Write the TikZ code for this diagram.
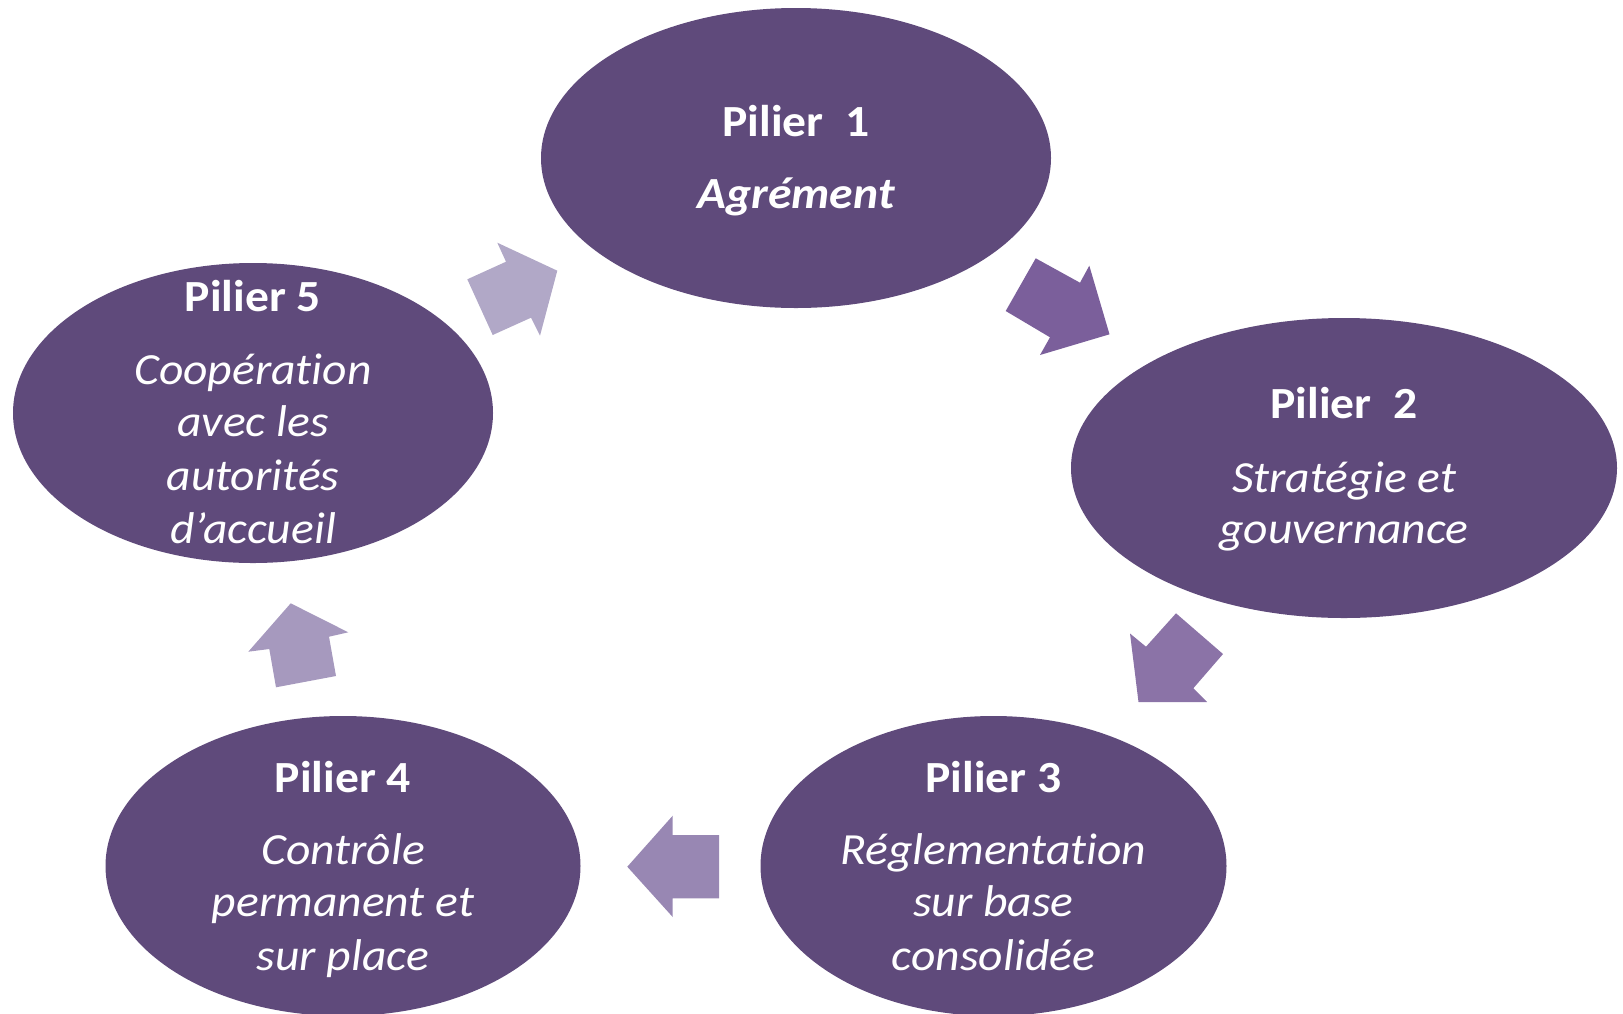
\documentclass[tikz,border=0pt]{standalone}
\usepackage{fontspec}
\setmainfont{Carlito}[FakeStretch=1.07, Ligatures=NoCommon]
\usetikzlibrary{shapes.geometric}
\definecolor{pil}{HTML}{5F4A7B}
\definecolor{arA}{HTML}{B1A8C7}
\definecolor{arB}{HTML}{7B5F9B}
\definecolor{arC}{HTML}{8B73A7}
\definecolor{arD}{HTML}{9887B3}
\definecolor{arE}{HTML}{A699BE}
\begin{document}
\begin{tikzpicture}[x=1pt,y=-1pt,
  pilier/.style={ellipse, fill=pil, draw=none, inner sep=0pt},
  ttl/.style={anchor=base, text=white, inner sep=0pt, font=\fontsize{44.5}{53}\selectfont\bfseries},
  body/.style={anchor=base, text=white, inner sep=0pt, font=\fontsize{44.5}{53}\selectfont\itshape},
  blockarrow/.style={draw=none}]
\useasboundingbox (0,0) rectangle (1623,1013);
% ellipses
\node[pilier, minimum width=510pt, minimum height=300pt] (p1) at (796,158) {};
\node[pilier, minimum width=546pt, minimum height=300pt] (p2) at (1344,468) {};
\node[pilier, minimum width=466pt, minimum height=300pt] (p3) at (993.5,866) {};
\node[pilier, minimum width=475pt, minimum height=300pt] (p4) at (343,866) {};
\node[pilier, minimum width=480pt, minimum height=300pt] (p5) at (253,413) {};
% texts
\node[ttl] (p1a) at (796,136) {Pilier\ \ 1};
\node[ttl, font=\fontsize{44.5}{53}\selectfont\bfseries\itshape] (p1b) at (796,208) {Agrément};
\node[ttl] (p2a) at (1344,418) {Pilier\ \ 2};
\node[body] (p2b) at (1344,492) {Stratégie et};
\node[body] (p2c) at (1344,543) {gouvernance};
\node[ttl] (p3a) at (993.5,792) {Pilier 3};
\node[body] (p3b) at (993.5,864) {Réglementation};
\node[body] (p3c) at (993.5,916) {sur base};
\node[body] (p3d) at (993.5,970) {consolidée};
\node[ttl] (p4a) at (343,792) {Pilier 4};
\node[body] (p4b) at (343,864) {Contrôle};
\node[body] (p4c) at (343,916) {permanent et};
\node[body] (p4d) at (343,970) {sur place};
\node[ttl] (p5a) at (253,311) {Pilier 5};
\node[body] (p5b) at (253,384) {Coopération};
\node[body] (p5c) at (253,436) {avec les};
\node[body] (p5d) at (253,490) {autorités};
\node[body] (p5e) at (253,543) {d’accueil};
% block arrows
\fill[arA] (497.3,242.7) -- (506,261.7) -- (467.3,279.3) -- (492.7,335) -- (531,317.7) -- (540,335.7) -- (557.3,270.7) -- cycle;
\fill[arB] (1035.7,258.3) -- (1080,282.7) -- (1089.3,265.7) -- (1109.5,334.3) -- (1040,355) -- (1050,337.3) -- (1005.7,311) -- cycle;
\fill[arC] (1176,613.3) -- (1146,646.7) -- (1130,633.5) -- (1138.5,702) -- (1207,702) -- (1193.3,688.3) -- (1223,654) -- cycle;
\fill[arD] (719,835) -- (672.7,835) -- (672.7,815.7) -- (627.3,866.7) -- (672.7,917) -- (672.7,898.3) -- (719,898.3) -- cycle;
\fill[arE] (276,687.3) -- (269.3,649) -- (248.3,651.7) -- (290.7,603.3) -- (348.3,632.3) -- (329,636.7) -- (336,676) -- cycle;
\end{tikzpicture}
\end{document}
